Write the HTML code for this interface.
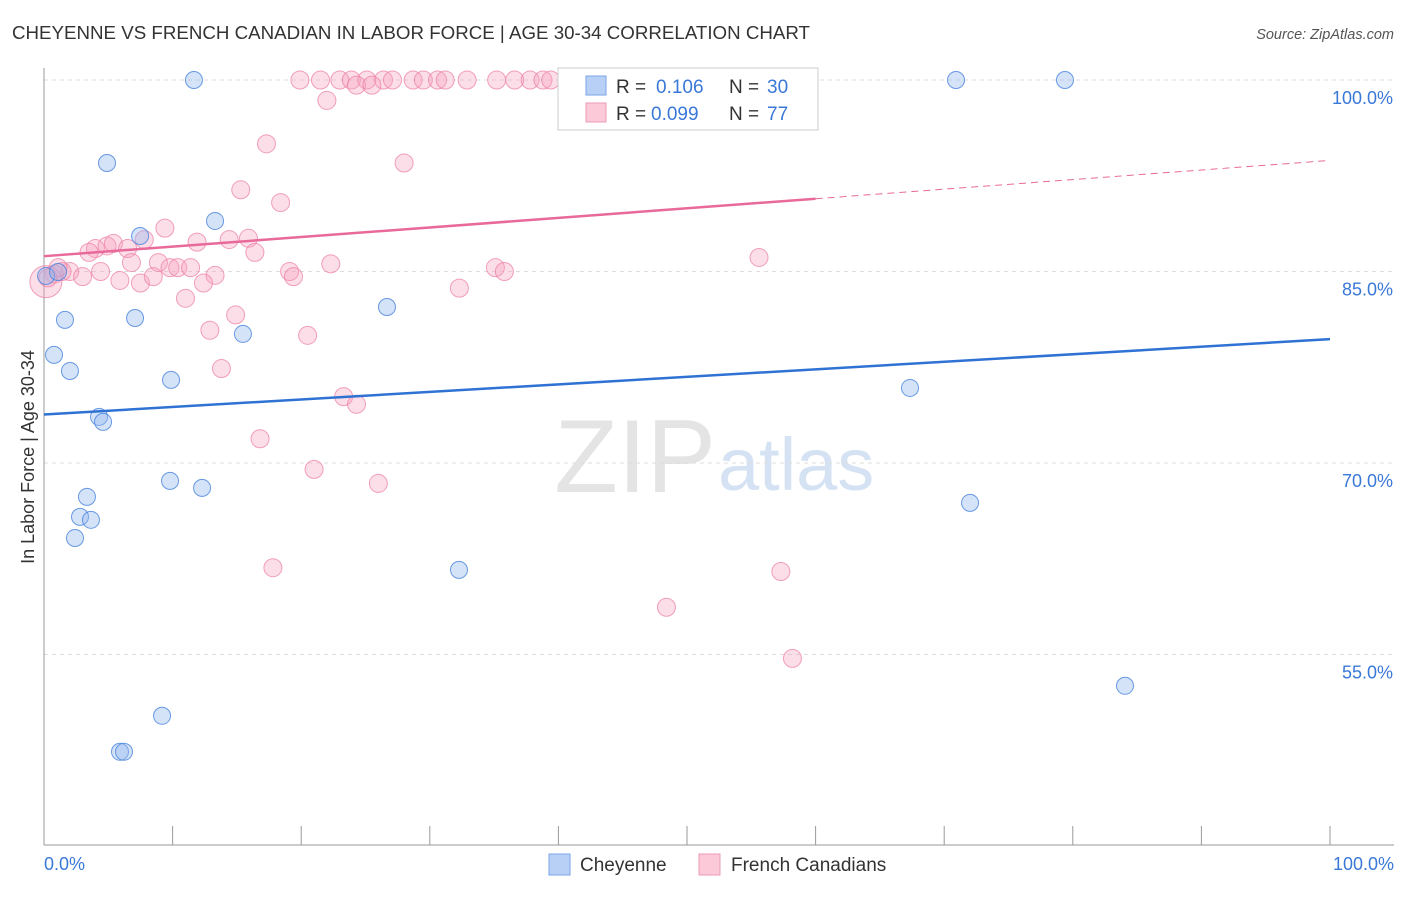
<!DOCTYPE html>
<html><head><meta charset="utf-8"><style>
body{margin:0;background:#fff;font-family:"Liberation Sans",sans-serif;}
svg text{font-family:"Liberation Sans",sans-serif;}
</style></head><body>
<svg id="c" width="1406" height="892" viewBox="0 0 1406 892">
<text x="12" y="39" font-size="18" fill="#333" textLength="798" lengthAdjust="spacingAndGlyphs">CHEYENNE VS FRENCH CANADIAN IN LABOR FORCE | AGE 30-34 CORRELATION CHART</text>
<text x="1394" y="39" font-size="14.5" fill="#555" font-style="italic" text-anchor="end">Source: ZipAtlas.com</text>
<text x="716" y="492" font-size="104" fill="#e4e4e4" text-anchor="end" font-family="Liberation Serif">ZIP</text>
<text x="718" y="490" font-size="74" fill="#d5e2f3">atlas</text>
<g id="grid"></g><g id="axes"></g><g id="marks"></g>
<text transform="translate(34,457) rotate(-90)" font-size="18" fill="#333" text-anchor="middle">In Labor Force | Age 30-34</text>
<g>
<rect x="558" y="68" width="260" height="62" fill="#fff" stroke="#ccc"/>
<rect x="586" y="76" width="20" height="19" fill="#b8d0f5" stroke="#7aa6e6"/>
<text x="616" y="93" font-size="19" fill="#333">R =</text>
<text x="656" y="93" font-size="19" fill="#3a78d8">0.106</text>
<text x="729" y="93" font-size="19" fill="#333">N =</text>
<text x="767" y="93" font-size="19" fill="#3a78d8">30</text>
<rect x="586" y="103" width="20" height="19" fill="#fbc9d8" stroke="#ee9ab4"/>
<text x="616" y="120" font-size="19" fill="#333">R =</text>
<text x="651" y="120" font-size="19" fill="#3a78d8">0.099</text>
<text x="729" y="120" font-size="19" fill="#333">N =</text>
<text x="767" y="120" font-size="19" fill="#3a78d8">77</text>
</g>
<g>
<rect x="549" y="854" width="21" height="21" fill="#b8d0f5" stroke="#7aa6e6"/>
<text x="580" y="871" font-size="19" fill="#333">Cheyenne</text>
<rect x="699" y="854" width="21" height="21" fill="#fbc9d8" stroke="#ee9ab4"/>
<text x="731" y="871" font-size="19" fill="#333">French Canadians</text>
</g>
</svg>
<script>
const yTicks=[100,85,70,55];
const yTickLabels=["100.0%","85.0%","70.0%","55.0%"];
const xTickLabels=["0.0%","100.0%"];
const cheyX=[11.66,70.92,79.39,4.90,13.30,7.47,0.16,1.09,1.63,7.08,26.67,15.47,0.78,2.02,9.88,67.34,4.28,4.59,9.80,12.29,3.34,2.80,3.65,2.41,72.01,32.27,9.18,5.91,6.22,84.06];
const cheyY=[100,100,100,93.5,88.96,87.78,84.65,84.96,81.21,81.36,82.22,80.11,78.47,77.21,76.51,75.88,73.61,73.22,68.60,68.05,67.35,65.78,65.55,64.13,66.88,61.63,50.20,47.38,47.38,52.55];
const frX=[19.9,21.5,23.0,23.9,25.1,26.4,27.1,28.7,29.5,30.6,31.2,32.9,35.2,36.6,37.8,38.8,39.4,42.0,44.7,46.7,24.3,22.0,25.5,
17.3,15.3,18.4,28.0,9.4,7.8,11.9,14.4,15.9,4.0,3.5,4.9,5.4,6.5,16.4,6.8,8.9,9.8,10.4,11.4,4.4,2.0,1.4,0.8,3.0,5.9,7.5,8.5,13.3,12.4,19.1,19.4,22.3,35.1,35.8,32.3,11.0,14.9,12.9,20.5,13.8,23.3,24.3,16.8,21.0,26.0,17.8,57.3,48.4,58.2,55.6,0.15,0.3,1.1];
const frY=[100,100,100,100,100,100,100,100,100,100,100,100,100,100,100,100,100,100,100,100,99.6,98.4,99.6,
95.0,91.4,90.4,93.5,88.4,87.5,87.3,87.5,87.6,86.8,86.5,87.0,87.2,86.8,86.5,85.7,85.7,85.3,85.3,85.3,85.0,85.0,85.0,84.8,84.6,84.3,84.1,84.6,84.7,84.1,85.0,84.6,85.6,85.3,85.0,83.7,82.9,81.6,80.4,80.0,77.4,75.2,74.6,71.9,69.5,68.4,61.8,61.5,58.7,54.7,86.1,84.2,84.5,85.3];
const cheyTrend=[73.8,79.7];
const frTrend=[86.2,93.7];
const frSolidEnd=60;

const NS="http://www.w3.org/2000/svg";
const X=v=>44+v*12.86;
const Y=v=>80+(100-v)*12.767;
function mk(tag,attrs,parent){const e=document.createElementNS(NS,tag);for(const k in attrs)e.setAttribute(k,attrs[k]);parent.appendChild(e);return e;}
const grid=document.getElementById('grid'),axes=document.getElementById('axes'),marks=document.getElementById('marks');
yTicks.forEach((t,i)=>{
 const l=mk('line',{x1:44,x2:1394,y1:Y(t),y2:Y(t),stroke:'#ddd','stroke-dasharray':'4 4'},grid);
 
 
 const tx=mk('text',{x:1393,y:Y(t)+24,'font-size':18,fill:'#3a78d8','text-anchor':'end'},axes);
 tx.textContent=yTickLabels[i];
 
 
});
const ax=mk('line',{x1:44,x2:44,y1:68,y2:845,stroke:'#999'},axes);


const bx=mk('line',{x1:44,x2:1394,y1:845,y2:845,stroke:'#999'},axes);


for(let i=0;i<=10;i++){const t=mk('line',{x1:X(i*10),x2:X(i*10),y1:826,y2:845,stroke:'#999'},axes);
 
 }
[[0,'start',44],[100,'end',1394]].forEach((d,i)=>{const t=mk('text',{x:d[2],y:870,'font-size':18,fill:'#3a78d8','text-anchor':d[1]},axes);t.textContent=xTickLabels[i];
 
 });
frX.forEach((x,i)=>{const r=(i===frX.length-3)?16:9;const c=mk('circle',{cx:X(x),cy:Y(frY[i]),r:r,fill:'rgba(246,160,188,0.35)',stroke:'rgba(236,130,165,0.75)','stroke-width':1},marks);
 
 });
cheyX.forEach((x,i)=>{const c=mk('circle',{cx:X(x),cy:Y(cheyY[i]),r:8.5,fill:'rgba(150,185,240,0.4)',stroke:'rgba(70,130,220,0.8)','stroke-width':1},marks);
 
 });
const fm=frTrend[0]+(frTrend[1]-frTrend[0])*frSolidEnd/100;
const p1=mk('line',{x1:X(0),y1:Y(frTrend[0]),x2:X(frSolidEnd),y2:Y(fm),stroke:'#e8699a','stroke-width':2.5},marks);


const p2=mk('line',{x1:X(frSolidEnd),y1:Y(fm),x2:X(100),y2:Y(frTrend[1]),stroke:'#e8699a','stroke-width':1,'stroke-dasharray':'7 5'},marks);


const b1=mk('line',{x1:X(0),y1:Y(cheyTrend[0]),x2:X(100),y2:Y(cheyTrend[1]),stroke:'#2f72d4','stroke-width':2.5},marks);


</script>
</body></html>
